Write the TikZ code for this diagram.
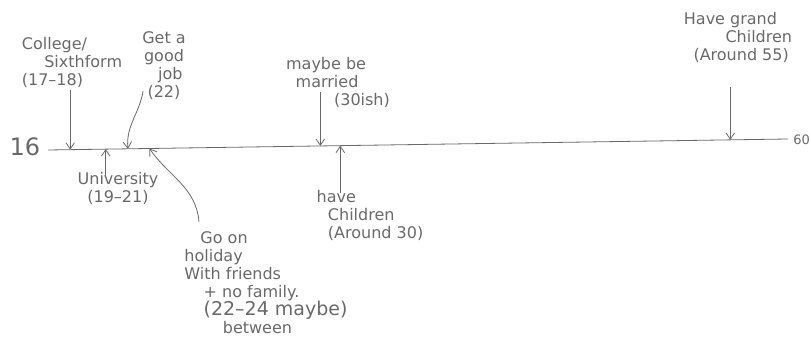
\documentclass[tikz,border=0pt]{standalone}
\usepackage{fontspec}
\setmainfont{DejaVu Sans}
\usepackage{xcolor}
\usetikzlibrary{arrows.meta,calc}
\definecolor{pencil}{RGB}{105,105,105}

\begin{document}
\begin{tikzpicture}[
    x=1pt, y=-1pt,
    note/.style={text=pencil, align=left, inner sep=0pt,
                 font=\fontsize{16}{18}\selectfont},
    arr/.style={-{Straight Barb[length=2.2mm,width=3mm]}, pencil, line width=0.8pt},
    axis/.style={pencil, line width=0.8pt}
]
    \useasboundingbox (0,0) rectangle (811,355);

    % the time line
    \coordinate (start) at (48,150);
    \coordinate (end) at (788,139);
    \draw[axis] (start) -- (end);
    \node[note, font=\fontsize{24}{24}\selectfont] (age16) at (25,147) {16};
    \node[note, anchor=east, font=\fontsize{13}{13}\selectfont] (age60) at (810,140) {60};

    % points on the line
    \coordinate (c17) at ($(start)!0.030!(end)$);
    \coordinate (c19) at ($(start)!0.078!(end)$);
    \coordinate (c22) at ($(start)!0.108!(end)$);
    \coordinate (c22b) at ($(start)!0.137!(end)$);
    \coordinate (c30) at ($(start)!0.368!(end)$);
    \coordinate (c30b) at ($(start)!0.395!(end)$);
    \coordinate (c55) at ($(start)!0.922!(end)$);

    % above the line
    \node[note] (college) at (72,62) {College/\\\hspace*{1.4em}Sixthform\\(17--18)};
    \node[note, align=center] (job) at (164,66) {Get a\\good\\\hspace*{0.8em}job\\(22)};
    \node[note] (married) at (338,82) {maybe be\\\hspace*{0.6em}married\\\hspace*{3em}(30ish)};
    \node[note] (grand) at (738,37) {Have grand\\\hspace*{2.6em}Children\\\hspace*{0.6em}(Around 55)};

    % below the line
    \node[note, align=center] (uni) at (118,188) {University\\(19--21)};
    \node[note] (hol) at (266,283) {\hspace*{1em}Go on\\holiday\\With friends\\\hspace*{1.2em}+ no family.\\\hspace*{1.2em}{\fontsize{19}{20}\selectfont(22--24 maybe)}\\\hspace*{2.4em}between};
    \node[note] (kids) at (370,215) {have\\\hspace*{0.7em}Children\\\hspace*{0.7em}(Around 30)};

    % arrows
    \draw[arr] ([yshift=-3pt]college.south -| c17) -- (c17);
    \draw[arr] ([xshift=1pt,yshift=9pt]job.south west) to[out=260,in=95] (c22);
    \draw[arr] ([yshift=-6pt]uni.north -| c19) -- (c19);
    \draw[arr] ([yshift=10pt]hol.north -| {(199,0)}) to[out=95,in=-55] (c22b);
    \draw[arr] ([yshift=15pt]married.south -| c30) -- (c30);
    \draw[arr] ([yshift=-3pt]kids.north -| c30b) -- (c30b);
    \draw[arr] ([yshift=-25pt]grand.south -| c55) -- (c55);
\end{tikzpicture}
\end{document}
